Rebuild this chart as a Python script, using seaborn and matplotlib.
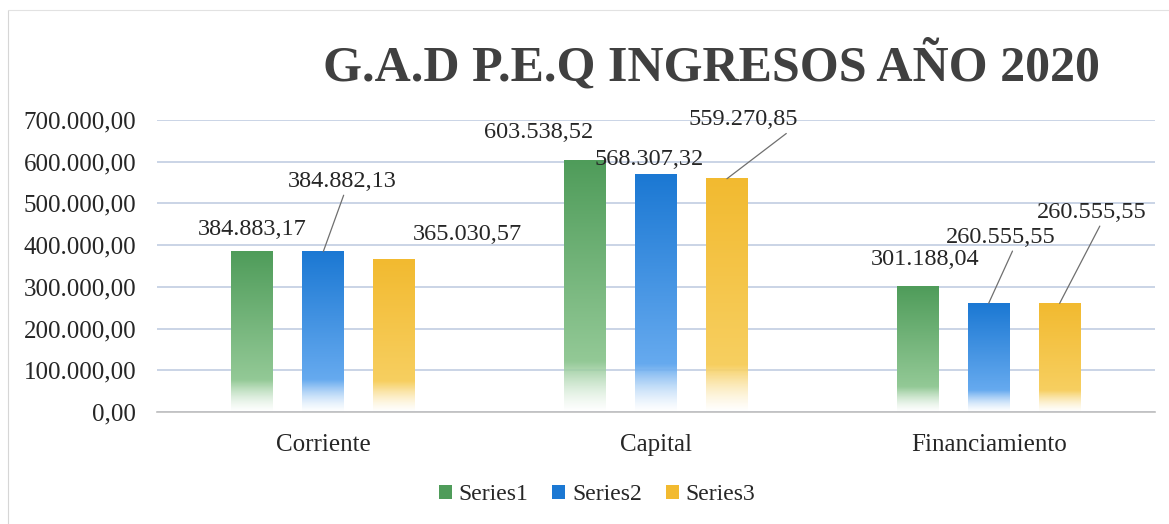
import matplotlib
matplotlib.use("Agg")
import matplotlib.pyplot as plt
import numpy as np
import pandas as pd
import seaborn as sns
from matplotlib.colors import to_rgb
from matplotlib.lines import Line2D
from matplotlib.patches import Patch
from matplotlib.ticker import FixedLocator, FuncFormatter


categories = ["Corriente", "Capital", "Financiamiento"]
series_names = ["Series1", "Series2", "Series3"]
series1 = [384883.17, 603538.52, 301188.04]
series2 = [384882.13, 568307.32, 260555.55]
series3 = [365030.57, 559270.85, 260555.55]
y_ticks = [0, 100000, 200000, 300000, 400000, 500000, 600000, 700000]
title = "G.A.D P.E.Q INGRESOS AÑO 2020"

TOP_COLORS = ["#4f9c5a", "#1b78d3", "#f2ba30"]
MID_COLORS = ["#93c996", "#66aaef", "#f7cf60"]

# label placement in pixels from the bar top: (dx, dy, leader relpos x or None)
LABEL_POS = [
    [(0, 22, None), (-46, 28, None), (7, 27, None)],
    [(19, 70, 0.53), (-7, 15, None), (12, 66, 0.63)],
    [(73, 25, None), (16, 59, 0.96), (32, 91, 0.6)],
]


def es_fmt(value: float) -> str:
    text = f"{value:,.2f}"
    return text.replace(",", "X").replace(".", ",").replace("X", ".")


def gradient_image(top: str, mid: str, n: int = 200) -> np.ndarray:
    top_rgb = np.array(to_rgb(top))
    mid_rgb = np.array(to_rgb(mid))
    t = np.linspace(0.0, 1.0, n)[:, None]
    rgb = top_rgb + (mid_rgb - top_rgb) * np.clip(t / 0.8, 0, 1)
    fade = np.clip((t - 0.8) / 0.2, 0, 1)
    rgb = rgb + (1.0 - rgb) * fade * 0.6
    alpha = 1.0 - fade ** 1.1
    img = np.concatenate([rgb, alpha], axis=1)
    return img[:, None, :]


sns.set_style("white")
plt.rcParams["font.family"] = ["Liberation Serif", "DejaVu Serif"]

df = pd.DataFrame({
    "categoria": categories * 3,
    "serie": np.repeat(series_names, len(categories)),
    "valor": series1 + series2 + series3,
})

fig = plt.figure(figsize=(11.69, 5.24), dpi=100)
ax = fig.add_axes([157 / 1169, 1 - 412 / 524, 998 / 1169, 292 / 524])

sns.barplot(
    data=df, x="categoria", y="valor", hue="serie", palette=TOP_COLORS,
    width=0.64, gap=0.41, errorbar=None, legend=False, ax=ax,
)

for s_idx, container in enumerate(ax.containers):
    img = gradient_image(TOP_COLORS[s_idx], MID_COLORS[s_idx])
    for c_idx, bar in enumerate(container):
        x0, w, h = bar.get_x(), bar.get_width(), bar.get_height()
        ax.imshow(img, extent=[x0, x0 + w, 0, h], aspect="auto", zorder=2,
                  interpolation="bilinear")
        bar.set_visible(False)

        dx, dy, relx = LABEL_POS[s_idx][c_idx]
        arrow = None
        if relx is not None:
            arrow = dict(arrowstyle="-", color="#6f6f6f", lw=0.9,
                         relpos=(relx, 0.1), shrinkA=0, shrinkB=0)
        ax.annotate(es_fmt(h), xy=(x0 + w / 2, h), xytext=(dx, dy),
                    textcoords="offset pixels", ha="center", va="center",
                    fontsize=17.5, color="#262626", arrowprops=arrow, zorder=4)

ax.set_xlim(-0.5, 2.5)
ax.set_ylim(0, 700000)
ax.yaxis.set_major_locator(FixedLocator(y_ticks))
ax.yaxis.set_major_formatter(FuncFormatter(lambda v, _: es_fmt(v)))
ax.grid(axis="y", color="#c6d1e4", lw=1.3, zorder=0)
ax.set_axisbelow(True)
for side in ["left", "right", "top"]:
    ax.spines[side].set_visible(False)
ax.spines["bottom"].set_color("#bfbfbf")
ax.spines["bottom"].set_linewidth(1.2)
ax.tick_params(axis="y", length=0, pad=15, labelsize=18, labelcolor="#262626")
ax.tick_params(axis="x", length=0, pad=16, labelsize=18, labelcolor="#262626")
ax.set_xlabel("")
ax.set_ylabel("")

fig.text(711 / 1169, 1 - 66 / 524, title, ha="center", va="center",
         fontsize=36, fontweight="bold", color="#404040")

handles = [Patch(facecolor=c, edgecolor="none") for c in TOP_COLORS]
fig.legend(handles, series_names, loc="center", ncol=3, frameon=False,
           bbox_to_anchor=(597 / 1169, 1 - 495 / 524),
           prop={"family": "Liberation Serif", "size": 17},
           handlelength=0.55, handleheight=0.55, handletextpad=0.3,
           columnspacing=1.0, labelcolor="#262626")

fig.add_artist(Line2D([8 / 1169, 8 / 1169], [0, 1 - 10 / 524], color="#d6d6d6",
                      lw=0.8, transform=fig.transFigure))
fig.add_artist(Line2D([8 / 1169, 1], [1 - 10 / 524, 1 - 10 / 524], color="#e2e2e2",
                      lw=0.8, transform=fig.transFigure))

fig.savefig("out.png", dpi=100)
plt.close(fig)
